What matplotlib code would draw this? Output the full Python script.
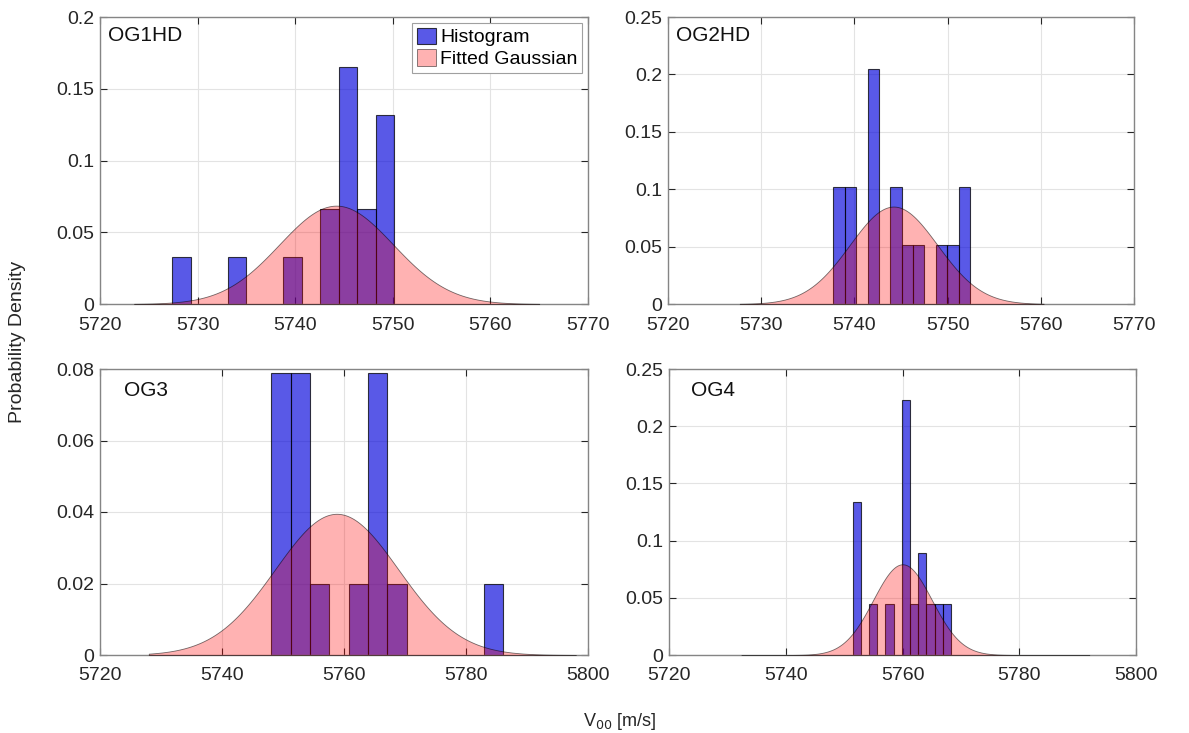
import numpy as np
import matplotlib
matplotlib.use("Agg")
import matplotlib.pyplot as plt

plt.rcParams['font.family'] = ['Liberation Sans', 'DejaVu Sans']

# bin edges and densities
og1_edges = [5727.40, 5729.30, 5731.19, 5733.09, 5734.98, 5736.88, 5738.77,
             5740.67, 5742.56, 5744.46, 5746.35, 5748.25, 5750.14]
og1_dens = [0.033, 0, 0, 0.033, 0, 0, 0.033, 0, 0.066, 0.165, 0.066, 0.132]

og2_edges = [5737.74, 5738.96, 5740.18, 5741.41, 5742.63, 5743.85, 5745.07,
             5746.29, 5747.52, 5748.74, 5749.96, 5751.18, 5752.40]
og2_dens = [0.102, 0.102, 0, 0.205, 0, 0.102, 0.051, 0.051, 0, 0.051, 0.051, 0.102]

og3_edges = [5748.10, 5751.26, 5754.43, 5757.59, 5760.76, 5763.92, 5767.08,
             5770.25, 5773.41, 5776.58, 5779.74, 5782.90, 5786.07]
og3_dens = [0.079, 0.079, 0.0198, 0, 0.0198, 0.079, 0.0198, 0, 0, 0, 0, 0.0198]

og4_edges = [5751.45, 5752.86, 5754.26, 5755.67, 5757.07, 5758.48, 5759.88,
             5761.29, 5762.69, 5764.10, 5765.50, 5766.91, 5768.31]
og4_dens = [0.134, 0, 0.0445, 0, 0.0445, 0, 0.2225, 0.0445, 0.089, 0.0445, 0.0445, 0.0445]

# fitted gaussian parameters (mean, sigma) and the x span of the drawn curve
gauss_mu = [5744.2, 5744.2, 5758.8, 5760.0]
gauss_sigma = [5.82, 4.70, 10.1, 5.03]
gauss_span = [(5723.5, 5765.0), (5727.7, 5760.3), (5728.0, 5798.0), (5732.4, 5792.0)]

names = ['OG1HD', 'OG2HD', 'OG3', 'OG4']
xlims = [(5720, 5770), (5720, 5770), (5720, 5800), (5720, 5800)]
xsteps = [10, 10, 20, 20]
ylims = [0.2, 0.25, 0.08, 0.25]
ysteps = [0.05, 0.05, 0.02, 0.05]

edges_all = [og1_edges, og2_edges, og3_edges, og4_edges]
dens_all = [og1_dens, og2_dens, og3_dens, og4_dens]

W, H = 1189, 733
fig = plt.figure(figsize=(W / 100, H / 100), dpi=100)
# axes boxes in pixels: left, top, right, bottom
boxes = [(100, 17, 588, 304), (668, 17, 1134, 304),
         (100, 369, 588, 655), (669, 369, 1136, 655)]
label_pos = [(0.016, 0.934), (0.018, 0.934), (0.049, 0.925), (0.048, 0.925)]

for i in range(4):
    l, t, r, b = boxes[i]
    ax = fig.add_axes([l / W, 1 - b / H, (r - l) / W, (b - t) / H])
    e = np.array(edges_all[i])
    d = np.array(dens_all[i])
    keep = d > 0
    bars = ax.bar(e[:-1][keep], d[keep], width=np.diff(e)[keep], align='edge',
                  color=(0, 0, 0.86, 0.65), edgecolor=(0, 0, 0, 0.75), linewidth=0.8,
                  label='Histogram', zorder=2)
    xs = np.linspace(gauss_span[i][0], gauss_span[i][1], 400)
    ys = np.exp(-0.5 * ((xs - gauss_mu[i]) / gauss_sigma[i]) ** 2) / (gauss_sigma[i] * np.sqrt(2 * np.pi))
    area = ax.fill_between(xs, ys, 0, facecolor=(1, 0, 0, 0.3), edgecolor=(0, 0, 0, 0.55),
                           linewidth=0.6, label='Fitted Gaussian', zorder=3)

    ax.set_xlim(*xlims[i])
    ax.set_ylim(0, ylims[i])
    ax.set_xticks(np.arange(xlims[i][0], xlims[i][1] + 1, xsteps[i]))
    yt = np.round(np.arange(0, ylims[i] + 1e-9, ysteps[i]), 3)
    ax.set_yticks(yt)
    ax.set_yticklabels(['%g' % v for v in yt])
    ax.grid(True, color='#e3e3e3', linewidth=0.8, zorder=0)
    ax.set_axisbelow(True)
    ax.tick_params(direction='in', length=5, width=0.8, top=True, right=True,
                   labelsize=14, colors='#262626')
    ax.tick_params(axis='x', pad=9)
    ax.tick_params(axis='y', pad=4)
    for s in ax.spines.values():
        s.set_color('#858585')
        s.set_linewidth(1.0)
    ax.text(label_pos[i][0], label_pos[i][1], names[i], transform=ax.transAxes,
            fontsize=15, va='center', ha='left', color='#111111')
    if i == 0:
        leg = ax.legend([bars, area], ['Histogram', 'Fitted Gaussian'],
                        loc='upper right', fontsize=14, fancybox=False,
                        edgecolor='#a0a0a0', framealpha=1, handlelength=1.0,
                        handleheight=0.9, handletextpad=0.2, borderpad=0.25,
                        labelspacing=0.15, borderaxespad=0.3)
        leg.get_frame().set_linewidth(0.8)

fig.text(18 / W, 1 - 342 / H, 'Probability Density', rotation=90, fontsize=14,
         ha='center', va='center', color='#262626')
fig.text(620 / W, 1 - 722 / H, r'V$_{00}$ [m/s]', fontsize=13, ha='center',
         va='center', color='#262626')

plt.savefig('out.png', dpi=100)
